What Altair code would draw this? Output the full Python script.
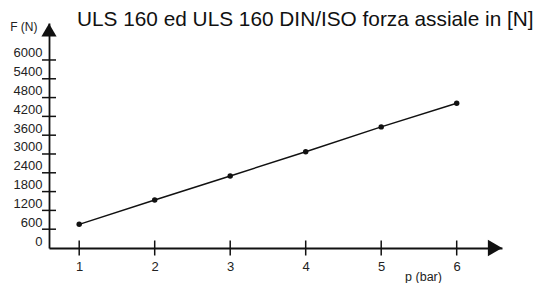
import altair as alt
import pandas as pd

# data
pressure = [1, 2, 3, 4, 5, 6]
force = [755, 1530, 2300, 3070, 3865, 4620]
y_ticks = [600, 1200, 1800, 2400, 3000, 3600, 4200, 4800, 5400, 6000]
y_labels = [0] + y_ticks
x_ticks = [1, 2, 3, 4, 5, 6]
title_text = "ULS 160 ed ULS 160 DIN/ISO forza assiale in [N]"

X_DOM = [0.6, 6.6]
Y_DOM = [0, 7180]
FONT = "Liberation Sans"
INK = "#111111"

df = pd.DataFrame({"p": pressure, "F": force})
xs = alt.Scale(domain=X_DOM, nice=False, zero=False)
ys = alt.Scale(domain=Y_DOM, nice=False, zero=False)

x_axis = alt.Axis(values=x_ticks, format="d", title="p (bar)", grid=False, ticks=False,
                  domain=True, domainColor=INK, domainWidth=1.8,
                  labelPadding=12, labelFontSize=13, labelFont=FONT, labelColor="#222",
                  labelOverlap=False, labelFlush=False,
                  titleFont=FONT, titleFontSize=12.5, titleFontWeight="normal", titleColor="#222",
                  titleX=374, titleY=28.5, titleBaseline="middle", titleAlign="center")
y_axis = alt.Axis(values=y_labels, format="d", title="F (N)", grid=False, ticks=False,
                  domain=True, domainColor=INK, domainWidth=1.8,
                  labelPadding=7, labelFontSize=13, labelFont=FONT, labelColor="#222",
                  labelBaseline="bottom", labelFlush=False, labelOverlap=False,
                  titleFont=FONT, titleFontSize=12, titleFontWeight="normal", titleColor="#222",
                  titleAngle=0, titleAlign="right", titleX=-12, titleY=3, titleBaseline="middle")


def X(field):
    return alt.X(field, scale=xs, axis=x_axis)


def Y(field):
    return alt.Y(field, scale=ys, axis=y_axis)


line = alt.Chart(df).mark_line(color=INK, strokeWidth=1.5).encode(x=X("p:Q"), y=Y("F:Q"))
pts = alt.Chart(df).mark_point(filled=True, color=INK, size=30, opacity=1).encode(
    x=X("p:Q"), y=Y("F:Q"))

yt = alt.Chart(pd.DataFrame({"v": y_ticks, "x0": [X_DOM[0]] * len(y_ticks)})).mark_tick(
    orient="horizontal", size=14, thickness=1.5, color=INK, opacity=1).encode(
    y=Y("v:Q"), x=X("x0:Q"))
xt = alt.Chart(pd.DataFrame({"v": x_ticks, "y0": [Y_DOM[0]] * len(x_ticks)})).mark_tick(
    orient="vertical", size=15, thickness=1.5, color=INK, opacity=1).encode(
    x=X("v:Q"), y=Y("y0:Q"))

arrow_x = alt.Chart(pd.DataFrame({"a": [X_DOM[1]], "b": [Y_DOM[0]]})).mark_point(
    shape="triangle-right", size=270, filled=True, color=INK, opacity=1, xOffset=-7).encode(
    x=X("a:Q"), y=Y("b:Q"))
arrow_y = alt.Chart(pd.DataFrame({"a": [X_DOM[0]], "b": [Y_DOM[1]]})).mark_point(
    shape="triangle-up", size=230, filled=True, color=INK, opacity=1, yOffset=7).encode(
    x=X("a:Q"), y=Y("b:Q"))

title = alt.Chart(pd.DataFrame({"t": [title_text]})).mark_text(
    align="left", baseline="alphabetic", font=FONT, fontSize=20.8, color="#111").encode(
    text="t:N", x=alt.value(28), y=alt.value(3))

chart = alt.layer(line, pts, yt, xt, arrow_x, arrow_y, title).properties(
    width=453, height=225,
    padding={"left": 41, "top": 15, "right": 34, "bottom": 35},
    autosize=alt.AutoSizeParams(type="none"),
    background="white",
).configure_view(stroke=None)

chart.save("out.html", embed_options={"renderer": "svg", "actions": False})
